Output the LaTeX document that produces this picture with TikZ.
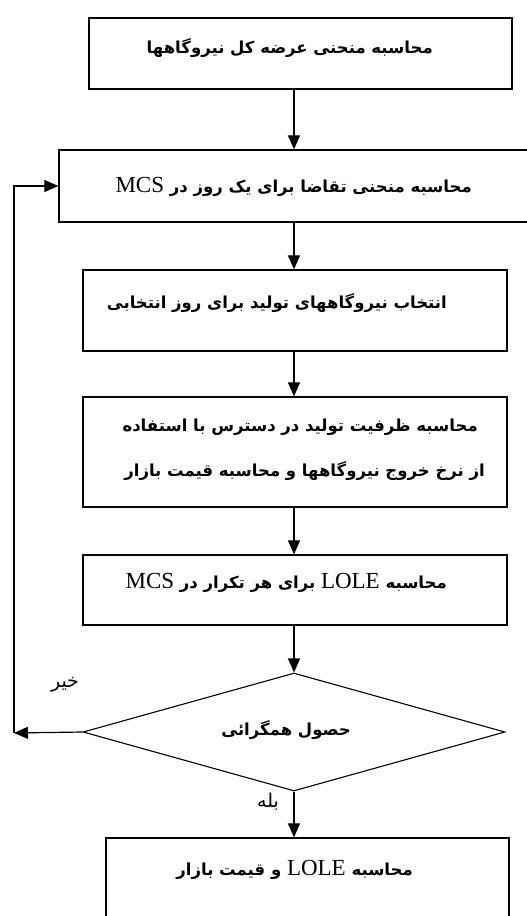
\documentclass[tikz,border=0pt]{standalone}
\usepackage{fontspec}
\setmainfont{Liberation Serif}
\newfontfamily\fa[Script=Arabic]{DejaVu Sans}
\newfontfamily\lat{Liberation Serif}
\TeXXeTstate=1
\usetikzlibrary{arrows.meta,shapes.geometric}
\newcommand\lt[1]{{\lat\mdseries\fontsize{23}{25}\selectfont #1}}
\begin{document}
\begin{tikzpicture}[x=1pt,y=-1pt,
  box/.style={draw,line width=1.3pt,rectangle,inner sep=0pt},
  arr/.style={line width=1.2pt,-{Triangle[length=14pt,width=12pt]}},
  ftxt/.style={font=\fa\bfseries\fontsize{16.5}{18}\selectfont,inner sep=0pt,anchor=east},
  lbl/.style={font=\fa\fontsize{19}{21}\selectfont,inner sep=0pt}]
\useasboundingbox (0,0) rectangle (527,916);
\clip (0,0) rectangle (527,916);
\node[box,minimum width=423pt,minimum height=71pt] (b1) at (300.5,53.5) {};
\node[box,minimum width=501pt,minimum height=72pt] (b2) at (309.5,186) {};
\node[box,minimum width=424pt,minimum height=81pt] (b3) at (295,310.5) {};
\node[box,minimum width=424pt,minimum height=110pt] (b4) at (295,452) {};
\node[box,minimum width=424pt,minimum height=70pt] (b5) at (295,590) {};
\node[draw,line width=1.1pt,diamond,inner sep=0pt,minimum width=422pt,minimum height=118pt] (d) at (294,732) {};
\node[box,minimum width=403pt,minimum height=122pt] (b6) at (307.5,899) {};
\node[ftxt] (t1) at (433,48) {\beginR محاسبه منحنی عرضه کل نیروگاهها\endR};
\node[ftxt] (t2) at (472,187) {\beginR محاسبه منحنی تقاضا برای یک روز در \lt{MCS}\endR};
\node[ftxt] (t3) at (447,303) {\beginR انتخاب نیروگاههای تولید برای روز انتخابی\endR};
\node[ftxt] (t4a) at (478,427) {\beginR محاسبه ظرفیت تولید در دسترس با استفاده\endR};
\node[ftxt] (t4b) at (485,471) {\beginR از نرخ خروج نیروگاهها و محاسبه قیمت بازار\endR};
\node[ftxt] (t5) at (447,583) {\beginR محاسبه \lt{LOLE} برای هر تکرار در \lt{MCS}\endR};
\node[ftxt] (t6) at (351,730) {\beginR حصول همگرائی\endR};
\node[ftxt] (t7) at (413,870) {\beginR محاسبه \lt{LOLE} و قیمت بازار\endR};
\node[lbl] (no) at (65,685) {\beginR خیر\endR};
\node[lbl] (yes) at (268,802) {\beginR بله\endR};
\coordinate (fb) at (14,733);
\draw[arr] (b1.south -| d.north) -- (b2.north -| d.north);
\draw[arr] (b2.south -| d.north) -- (b3.north -| d.north);
\draw[arr] (b3.south -| d.north) -- (b4.north -| d.north);
\draw[arr] (b4.south -| d.north) -- (b5.north -| d.north);
\draw[arr] (b5.south -| d.north) -- (d.north);
\draw[arr] (d.south) -- (b6.north -| d.south);
\draw[arr] (d.west) -- (fb);
\draw[arr] (fb) |- (b2.west);
\end{tikzpicture}
\end{document}
